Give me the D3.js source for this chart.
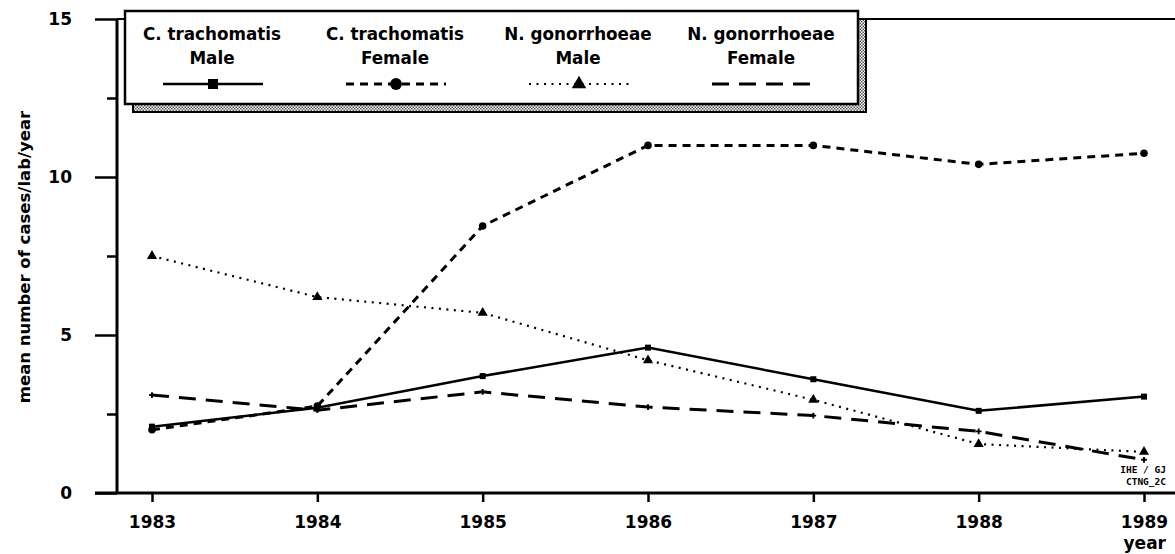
<!DOCTYPE html>
<html>
<head>
<meta charset="utf-8">
<script src="https://cdn.jsdelivr.net/npm/d3@7"></script>
<style>
  body { margin:0; background:#fff; }
  text { font-family:"DejaVu Sans", sans-serif; font-weight:bold; fill:#000; }
</style>
</head>
<body>
<svg></svg>
<script>
// values
var years = [1983, 1984, 1985, 1986, 1987, 1988, 1989];
var ctMale   = [2.1, 2.7, 3.7, 4.6, 3.6, 2.6, 3.05];
var ctFemale = [2.0, 2.75, 8.45, 11.0, 11.0, 10.4, 10.75];
var ngMale   = [7.5, 6.2, 5.7, 4.2, 2.95, 1.55, 1.3];
var ngFemale = [3.1, 2.62, 3.2, 2.72, 2.45, 1.95, 1.05];
var seriesNames = [["C. trachomatis", "Male"], ["C. trachomatis", "Female"],
                   ["N. gonorrhoeae", "Male"], ["N. gonorrhoeae", "Female"]];
var majorTicks = [0, 5, 10, 15];
var minorTicks = [2.5, 7.5, 12.5];

var screen = { width:1175, height:554 };

var svg = d3.select("svg")
            .attr("width", screen.width)
            .attr("height", screen.height);

var x = d3.scaleLinear()
          .domain([1983, 1989])
          .range([152, 1144]);

var y = d3.scaleLinear()
          .domain([0, 15])
          .range([493, 19]);

var axisLeftX = 117;

// frame: x axis line, y axis line, top line at 15
svg.append("line")
   .attr("x1", 95).attr("x2", screen.width)
   .attr("y1", y(0)).attr("y2", y(0))
   .attr("stroke", "black").attr("stroke-width", 3);
svg.append("line")
   .attr("x1", axisLeftX).attr("x2", screen.width)
   .attr("y1", y(15)).attr("y2", y(15))
   .attr("stroke", "black").attr("stroke-width", 2);
svg.append("line")
   .attr("x1", axisLeftX).attr("x2", axisLeftX)
   .attr("y1", y(15)).attr("y2", y(0))
   .attr("stroke", "black").attr("stroke-width", 3);

// y axis
var yAxis = svg.append("g")
               .attr("transform", "translate(" + axisLeftX + ",0)")
               .call(d3.axisLeft(y).tickValues(majorTicks).tickSize(22).tickPadding(23)
                       .tickFormat(d3.format("d")));
yAxis.select(".domain").remove();
yAxis.selectAll("line").attr("stroke-width", 2.5);
yAxis.selectAll("text").attr("font-size", "17px").attr("font-family", null);

var yMinor = svg.append("g")
                .attr("transform", "translate(" + axisLeftX + ",0)")
                .call(d3.axisLeft(y).tickValues(minorTicks).tickSize(10).tickFormat(""));
yMinor.select(".domain").remove();
yMinor.selectAll("line").attr("stroke-width", 2.5);

// x axis
var xAxis = svg.append("g")
               .attr("transform", "translate(0," + y(0) + ")")
               .call(d3.axisBottom(x).tickValues(years).tickSize(9).tickPadding(14)
                       .tickFormat(d3.format("d")));
xAxis.select(".domain").remove();
xAxis.selectAll("line").attr("stroke-width", 2.5);
xAxis.selectAll("text").attr("font-size", "17px").attr("font-family", null);

svg.append("text")
   .attr("x", 1166).attr("y", 549)
   .attr("text-anchor", "end")
   .attr("font-size", "17px")
   .text("year");

svg.append("text")
   .attr("transform", "translate(30,257) rotate(-90)")
   .attr("text-anchor", "middle")
   .attr("font-size", "16.5px")
   .text("mean number of cases/lab/year");

svg.append("text")
   .attr("x", 1166).attr("y", 473)
   .attr("text-anchor", "end")
   .style("font-family", "'DejaVu Sans Mono', monospace")
   .attr("font-size", "9.5px")
   .text("IHE / GJ");
svg.append("text")
   .attr("x", 1166).attr("y", 485)
   .attr("text-anchor", "end")
   .style("font-family", "'DejaVu Sans Mono', monospace")
   .attr("font-size", "9.5px")
   .text("CTNG_2C");

// series
var series = [
  { values:ctMale,   dash:null,    width:2.5, symbol:d3.symbolSquare,   size:36, legendSize:100 },
  { values:ctFemale, dash:"8,6",   width:3,   symbol:d3.symbolCircle,   size:45, legendSize:110 },
  { values:ngMale,   dash:"2,5.5", width:2.2, symbol:d3.symbolTriangle, size:45, legendSize:90 },
  { values:ngFemale, dash:"17,10", width:3,   symbol:d3.symbolCross,    size:18, legendSize:0 }
];

var line = d3.line()
             .x(function(d, i){ return x(years[i]); })
             .y(function(d){ return y(d); });

var lines = svg.append("g")
               .selectAll("g")
               .data(series)
               .enter()
               .append("g");

lines.append("path")
     .attr("d", function(d){ return line(d.values); })
     .attr("fill", "none")
     .attr("stroke", "black")
     .attr("stroke-width", function(d){ return d.width; })
     .attr("stroke-dasharray", function(d){ return d.dash; });

lines.each(function(s){
  d3.select(this)
    .selectAll(".pt")
    .data(s.values)
    .enter()
    .append("path")
    .attr("class", "pt")
    .attr("transform", function(d, i){ return "translate(" + x(years[i]) + "," + y(d) + ")"; })
    .attr("d", d3.symbol().type(s.symbol).size(s.size))
    .attr("fill", "black");
});

// legend with shaded drop shadow
var defs = svg.append("defs");
var pat = defs.append("pattern")
              .attr("id", "shade")
              .attr("width", 3).attr("height", 3)
              .attr("patternUnits", "userSpaceOnUse");
pat.append("rect").attr("width", 3).attr("height", 3).attr("fill", "white");
pat.append("rect").attr("width", 1.5).attr("height", 1.5).attr("fill", "#555");
pat.append("rect").attr("x", 1.5).attr("y", 1.5).attr("width", 1.5).attr("height", 1.5).attr("fill", "#555");

var box = { x:125, y:11, w:733, h:93, off:8 };

svg.append("rect")
   .attr("x", box.x + box.off).attr("y", box.y + box.off)
   .attr("width", box.w).attr("height", box.h)
   .attr("fill", "url(#shade)")
   .attr("stroke", "black").attr("stroke-width", 2);
svg.append("rect")
   .attr("x", box.x).attr("y", box.y)
   .attr("width", box.w).attr("height", box.h)
   .attr("fill", "white")
   .attr("stroke", "black").attr("stroke-width", 2.5);

var legend = svg.append("g")
                .selectAll("g")
                .data(series)
                .enter()
                .append("g")
                .attr("transform", function(d, i){ return "translate(" + (212 + i * 183) + ",0)"; });

legend.append("text")
      .attr("y", 40)
      .attr("text-anchor", "middle")
      .attr("font-size", "16.8px")
      .text(function(d, i){ return seriesNames[i][0]; });
legend.append("text")
      .attr("y", 64)
      .attr("text-anchor", "middle")
      .attr("font-size", "16.8px")
      .text(function(d, i){ return seriesNames[i][1]; });
legend.append("line")
      .attr("x1", -49).attr("x2", 51)
      .attr("y1", 84).attr("y2", 84)
      .attr("stroke", "black")
      .attr("stroke-width", function(d){ return d.width; })
      .attr("stroke-dasharray", function(d){ return d.dash; });
legend.append("path")
      .attr("transform", "translate(1,84)")
      .attr("d", function(d){ return d3.symbol().type(d.symbol).size(d.legendSize)(); })
      .attr("fill", "black");
</script>
</body>
</html>
